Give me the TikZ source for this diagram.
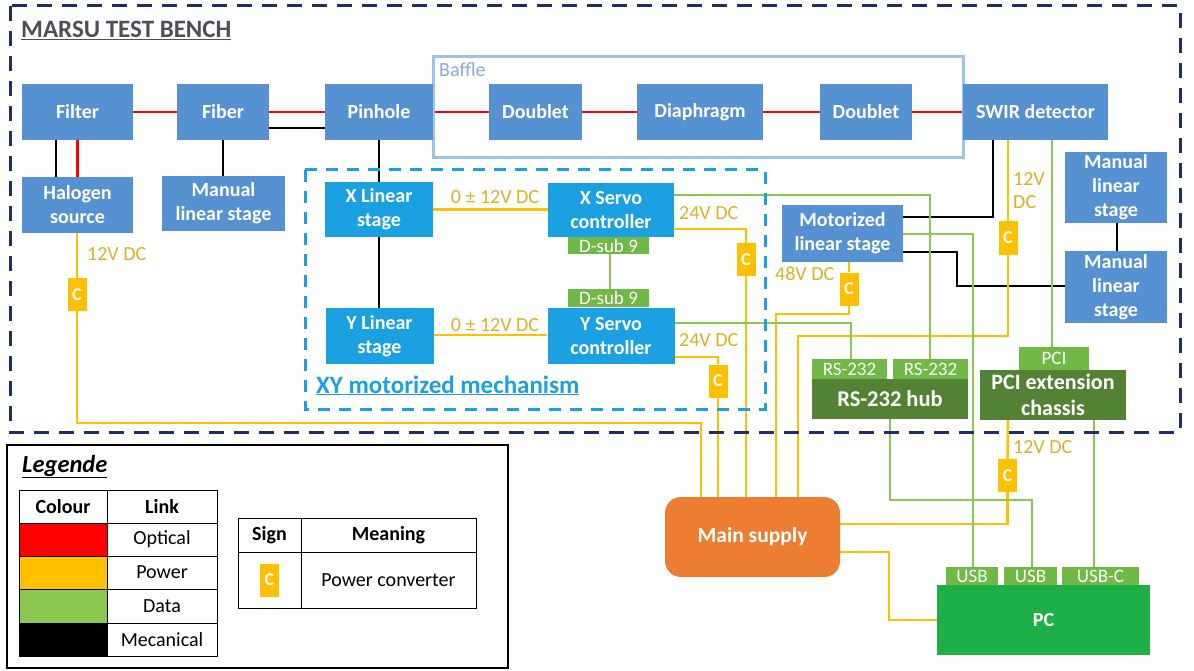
\documentclass[tikz,border=0pt]{standalone}
\usepackage{fontspec}
\setmainfont{Carlito}
\usetikzlibrary{backgrounds}
\definecolor{sblue}{RGB}{86,146,210}
\definecolor{cblue}{RGB}{27,161,226}
\definecolor{navy}{RGB}{31,45,105}
\definecolor{baf}{RGB}{157,195,230}
\definecolor{baftxt}{RGB}{140,170,215}
\definecolor{pyel}{RGB}{255,192,0}
\definecolor{lblc}{RGB}{222,175,40}
\definecolor{dgr}{RGB}{140,200,80}
\definecolor{cgr}{RGB}{112,185,70}
\definecolor{hub}{RGB}{84,130,53}
\definecolor{pcg}{RGB}{30,176,70}
\definecolor{orng}{RGB}{237,125,49}
\definecolor{ttl}{RGB}{75,80,90}
\tikzset{
  bx/.style={fill=sblue, text=white, font=\bfseries\fontsize{20}{24}\selectfont, align=center, inner sep=0pt},
  xyb/.style={bx, fill=cblue},
  conn/.style={fill=cgr, text=white, font=\fontsize{19}{20}\selectfont, inner sep=0pt},
  conv/.style={fill=pyel, text=white, minimum width=19pt, minimum height=33pt, inner sep=0pt, font=\bfseries\fontsize{18}{20}\selectfont},
  opt/.style={draw=red, line width=2.5pt},
  pow/.style={draw=pyel, line width=2.5pt},
  dat/.style={draw=dgr, line width=2.5pt},
  mec/.style={draw=black, line width=2.5pt},
  lbl/.style={text=lblc, font=\fontsize{20}{22}\selectfont, inner sep=0pt, align=left},
  ltxt/.style={font=\fontsize{20}{22}\selectfont, inner sep=0pt},
  lhead/.style={font=\bfseries\fontsize{20}{22}\selectfont, inner sep=0pt},
}
\begin{document}
\begin{tikzpicture}[x=1pt,y=-1pt]
\useasboundingbox (0,0) rectangle (1194,671);
% baffle
\draw[baf, line width=3pt] (433,57) rectangle (963,158);
\node[anchor=base west, text=baftxt, font=\fontsize{20}{22}\selectfont, inner sep=0pt] (baffle) at (439,77) {Baffle};
% title
\node[anchor=base west, text=ttl, font=\bfseries\fontsize{25}{28}\selectfont, inner sep=0pt] (title) at (21,38) {\underline{MARSU TEST BENCH}};
% top row
\node[bx, minimum width=111pt, minimum height=56pt] (filter) at (77.5,112) {Filter};
\node[bx, minimum width=92pt, minimum height=56pt] (fiber) at (223,112) {Fiber};
\node[bx, minimum width=108pt, minimum height=56pt] (pinhole) at (379,112) {Pinhole};
\node[bx, minimum width=93pt, minimum height=56pt] (doub1) at (535.5,112) {Doublet};
\node[bx, minimum width=126pt, minimum height=56pt] (diaph) at (700,112) {Diaphragm};
\node[bx, minimum width=92pt, minimum height=56pt] (doub2) at (866,112) {Doublet};
\node[bx, minimum width=145pt, minimum height=56pt] (swir) at (1035.5,112) {SWIR detector};
% second row
\node[bx, minimum width=111pt, minimum height=56pt] (halogen) at (77.5,205) {Halogen\\source};
\node[bx, minimum width=123pt, minimum height=55pt] (man1) at (223.5,203.5) {Manual\\linear stage};
% XY mechanism
\node[xyb, minimum width=108pt, minimum height=55pt] (xlin) at (379,209.5) {X Linear\\stage};
\node[xyb, minimum width=108pt, minimum height=56pt] (ylin) at (379.5,336) {Y Linear\\stage};
\node[xyb, minimum width=126pt, minimum height=54pt] (xserv) at (611,210) {X Servo\\controller};
\node[xyb, minimum width=127pt, minimum height=56pt] (yserv) at (611,336) {Y Servo\\controller};
\node[conn, minimum width=81pt, minimum height=17pt] (dsub1) at (608.5,245.5) {D-sub 9};
\node[conn, minimum width=81pt, minimum height=18pt] (dsub2) at (608.5,298) {D-sub 9};
\draw[cblue, line width=3pt, dash pattern=on 12pt off 9pt] (305,170) rectangle (765,409);
\node[anchor=base west, text=cblue, font=\bfseries\fontsize{25}{28}\selectfont, inner sep=0pt] (xylab) at (316,393) {\underline{XY motorized mechanism}};
% right side
\node[bx, minimum width=121pt, minimum height=57pt] (motor) at (842.5,233.5) {Motorized\\linear stage};
\node[bx, minimum width=102pt, minimum height=71pt] (man2) at (1116,187.5) {Manual\\linear\\stage};
\node[bx, minimum width=102pt, minimum height=72pt] (man3) at (1116,287) {Manual\\linear\\stage};
\node[bx, fill=hub, font=\bfseries\fontsize{22.5}{25}\selectfont, minimum width=156pt, minimum height=40pt] (hubn) at (890,399) {RS-232 hub};
\node[conn, minimum width=75pt, minimum height=20pt] (rs1) at (849.5,369) {RS-232};
\node[conn, minimum width=75pt, minimum height=20pt] (rs2) at (930.5,369) {RS-232};
\node[bx, fill=hub, font=\bfseries\fontsize{22}{26}\selectfont, minimum width=146pt, minimum height=50pt] (pciext) at (1053,395) {PCI extension\\chassis};
\node[conn, minimum width=70pt, minimum height=23pt] (pci) at (1054,358.5) {PCI};
% bottom
\node[bx, fill=orng, rounded corners=16pt, font=\bfseries\fontsize{21.5}{24}\selectfont, minimum width=175pt, minimum height=80pt] (main) at (752.5,537) {Main supply};
\node[bx, fill=pcg, minimum width=213pt, minimum height=70pt] (pc) at (1043.5,620) {PC};
\node[conn, minimum width=52pt, minimum height=18pt] (usb1) at (972,576) {USB};
\node[conn, minimum width=53pt, minimum height=18pt] (usb2) at (1030.5,576) {USB};
\node[conn, minimum width=77pt, minimum height=18pt] (usbc) at (1100.5,576) {USB-C};
% converters
\node[conv] (cH) at (77,294.5) {C};
\node[conv] (cX) at (746,259.5) {C};
\node[conv] (cM) at (849,289) {C};
\node[conv] (cY) at (718,381) {C};
\node[conv] (cS) at (1008,238) {C};
\node[conv] (cP) at (1007.5,475.5) {C};
% labels
\node[lbl, anchor=base west] (l1) at (87,260) {12V DC};
\node[lbl, anchor=base] (l2) at (495,204) {0 ± 12V DC};
\node[lbl, anchor=base] (l3) at (495,331) {0 ± 12V DC};
\node[lbl, anchor=base west] (l4) at (679,219) {24V DC};
\node[lbl, anchor=base west] (l5) at (679,346) {24V DC};
\node[lbl, anchor=base west] (l6) at (775,280) {48V DC};
\node[lbl, anchor=north west, font=\fontsize{20}{23}\selectfont] (l7) at (1013,172) {12V\\DC};
\node[lbl, anchor=base west] (l8) at (1013,453) {12V DC};
% outer frame
\draw[navy, line width=3pt, dash pattern=on 15pt off 10pt] (10,6) rectangle (1180,432);
% connectors
\begin{pgfonlayer}{background}
\coordinate (h1) at (701,423);
\coordinate (m1) at (776,314);
\coordinate (s1) at (798,336);
\coordinate (p1) at (1008,524);
\coordinate (q1) at (889,552);
\coordinate (q2) at (889,620);
\coordinate (g1) at (890,500);
\coordinate (g2) at (1032,500);
% optical
\draw[opt] (filter.east) -- (fiber.west);
\draw[opt] (fiber.east) -- (pinhole.west);
\draw[opt] (pinhole.east) -- (doub1.west);
\draw[opt] (doub1.east) -- (diaph.west);
\draw[opt] (diaph.east) -- (doub2.west);
\draw[opt] (doub2.east) -- (swir.west);
\draw[opt] (filter.south) -- (halogen.north);
% mechanical
\draw[mec] (filter.south -| 56,0) -- (halogen.north -| 56,0);
\draw[mec] (fiber.east |- 0,128) -- (pinhole.west |- 0,128);
\draw[mec] (fiber.south) -- (man1.north -| fiber.south);
\draw[mec] (pinhole.south) -- (xlin.north);
\draw[mec] (xlin.south) -- (ylin.north -| xlin.south);
\draw[mec] (motor.east |- 0,217) -| (swir.south -| 993,0);
\draw[mec] (motor.east |- 0,252) -- (957,252) |- (man3.west |- 0,286);
\draw[mec] (man2.south -| 1117,0) -- (man3.north -| 1117,0);
% power
\draw[pow] (xlin.east) -- (xserv.west |- xlin.east);
\draw[pow] (ylin.east |- 0,335) -- (yserv.west |- 0,335);
\draw[pow] (halogen.south -| cH) -- (cH.north);
\draw[pow] (cH.south) |- (h1) -- (h1 |- main.north);
\draw[pow] (xserv.east |- 0,229) -| (cX.north);
\draw[pow] (cX.south) -- (cX.south |- main.north);
\draw[pow] (yserv.east |- 0,357) -| (cY.north);
\draw[pow] (cY.south) -- (cY.south |- main.north);
\draw[pow] (motor.south -| cM) -- (cM.north);
\draw[pow] (cM.south) |- (m1) -- (m1 |- main.north);
\draw[pow] (swir.south -| cS) -- (cS.north);
\draw[pow] (cS.south) |- (s1) -- (s1 |- main.north);
\draw[pow] (pciext.south -| p1) -- (cP.north);
\draw[pow] (cP.south) |- (main.east |- p1);
\draw[pow] (main.east |- q1) -- (q1) -- (q2) -- (pc.west |- q2);
% data
\draw[dat] (dsub1.south -| 610,0) -- (dsub2.north -| 610,0);
\draw[dat] (xserv.east |- 0,195) -| (rs2.north -| 930,0);
\draw[dat] (yserv.east |- 0,323) -| (rs1.north -| 851,0);
\draw[dat] (motor.east |- 0,234) -| (usb1.north -| 973,0);
\draw[dat] (swir.south -| 1052,0) -- (pci.north -| 1052,0);
\draw[dat] (hubn.south -| g1) -- (g1) -- (g2) -- (usb2.north -| g2);
\draw[dat] (pciext.south -| 1094,0) -- (usbc.north -| 1094,0);
\end{pgfonlayer}
% legend
\draw[line width=2.5pt] (7,445) rectangle (508,668);
\node[anchor=base west, font=\bfseries\itshape\fontsize{24.5}{27}\selectfont, inner sep=0pt] (leg) at (22,472) {\underline{Legende}};
\fill[red] (19,523) rectangle (107,556);
\fill[pyel] (19,556) rectangle (107,589);
\fill[dgr] (19,589) rectangle (107,623);
\fill[black] (19,623) rectangle (107,656);
\draw[line width=1pt] (19,490) rectangle (217,656);
\draw[line width=1pt] (19,523) -- (217,523) (19,556) -- (217,556) (19,589) -- (217,589) (19,623) -- (217,623) (107,490) -- (107,656);
\node[lhead] (hcol) at (63,506.5) {Colour};
\node[lhead] (hlink) at (162,506.5) {Link};
\node[ltxt] (topt) at (162,539.5) {Optical};
\node[ltxt] (tpow) at (162,572.5) {Power};
\node[ltxt] (tdat) at (162,606) {Data};
\node[ltxt] (tmec) at (162,639.5) {Mecanical};
\draw[line width=1pt] (238,518) rectangle (476,608) (238,552) -- (476,552) (301,518) -- (301,608);
\node[lhead] (hsign) at (269.5,535) {Sign};
\node[lhead] (hmean) at (388.5,535) {Meaning};
\node[conv] (cL) at (269.5,580) {C};
\node[ltxt] (tconv) at (388.5,580) {Power converter};
\end{tikzpicture}
\end{document}
